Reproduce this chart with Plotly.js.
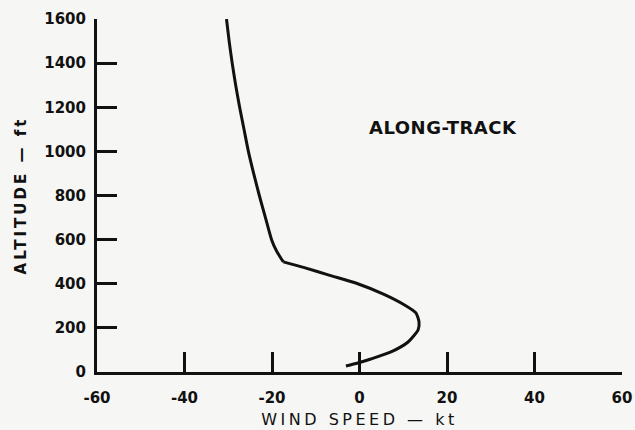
<!DOCTYPE html>
<html>
<head>
<meta charset="utf-8">
<script src="https://cdn.plot.ly/plotly-3.0.1.min.js"></script>
<style>
  html, body { margin: 0; padding: 0; background: #f6f6f4; }
  #chart { width: 635px; height: 430px; }
  .xtitle { letter-spacing: 3.5px; }
  .ytitle { letter-spacing: 3px; }
  .annotation-text { letter-spacing: 0.5px; }
</style>
</head>
<body>
<div id="chart"></div>
<script>
// Along-track wind speed (kt) vs altitude (ft)
// Upper part of the profile (1600 ft down to the break near 500 ft)
var windSpeedUpper = [-30.4, -29.8, -29.1, -28.3, -27.4, -26.4, -25.4, -24.2, -22.9, -21.5, -20.1, -19.0, -18.1, -17.4];
var altitudeUpper  = [1600, 1500, 1400, 1300, 1200, 1100, 1000, 900, 800, 700, 600, 550, 520, 499];
// Lower part of the profile (from the break down to near the ground)
var windSpeedLower = [-17.4, -12.8, -6.6, -0.4, 5.6, 10.2, 12.9, 13.6, 13.4, 11.1, 7.2, 2.6, -0.4, -3.1];
var altitudeLower  = [499, 474, 437, 400, 352, 305, 268, 227, 191, 136, 91, 59, 41, 27];

var xTicks = [-60, -40, -20, 0, 20, 40, 60];
var yTicks = [0, 200, 400, 600, 800, 1000, 1200, 1400, 1600];

var labelText = "ALONG-TRACK";
var labelX = 19;
var labelY = 1110;

var tickFont = {family: "DejaVu Sans", size: 15, color: "#111", weight: "bold"};
var lineStyle = {color: "#111", width: 3, shape: "spline", smoothing: 0.6};

var traces = [
  {x: windSpeedUpper, y: altitudeUpper, type: "scatter", mode: "lines", line: lineStyle, hoverinfo: "skip", showlegend: false},
  {x: windSpeedLower, y: altitudeLower, type: "scatter", mode: "lines", line: lineStyle, hoverinfo: "skip", showlegend: false}
];

var layout = {
  width: 635,
  height: 430,
  margin: {l: 97, r: 13, t: 19, b: 58},
  paper_bgcolor: "#f6f6f4",
  plot_bgcolor: "#f6f6f4",
  showlegend: false,
  xaxis: {
    range: [-60, 60],
    tickmode: "array",
    tickvals: xTicks,
    ticktext: xTicks.map(String),
    showgrid: false,
    zeroline: false,
    showline: true,
    linecolor: "#111",
    linewidth: 3,
    ticks: "inside",
    ticklen: 20,
    tickwidth: 3,
    tickcolor: "#111",
    tickfont: tickFont,
    ticklabelstandoff: 10,
    title: {text: "WIND SPEED — kt", font: {family: "DejaVu Sans", size: 16, color: "#111"}, standoff: 8}
  },
  yaxis: {
    range: [0, 1600],
    tickmode: "array",
    tickvals: yTicks,
    ticktext: yTicks.map(String),
    showgrid: false,
    zeroline: false,
    showline: true,
    linecolor: "#111",
    linewidth: 3,
    ticks: "inside",
    ticklen: 20,
    tickwidth: 3,
    tickcolor: "#111",
    tickfont: tickFont,
    ticklabelstandoff: 5,
    title: {text: "ALTITUDE — ft", font: {family: "DejaVu Sans", size: 15, color: "#111", weight: "bold"}, standoff: 15}
  },
  annotations: [{
    x: labelX, y: labelY, xref: "x", yref: "y",
    text: labelText,
    showarrow: false,
    font: {family: "DejaVu Sans", size: 18, color: "#111", weight: "bold"}
  }]
};

Plotly.newPlot("chart", traces, layout, {staticPlot: true, displayModeBar: false});
</script>
</body>
</html>
